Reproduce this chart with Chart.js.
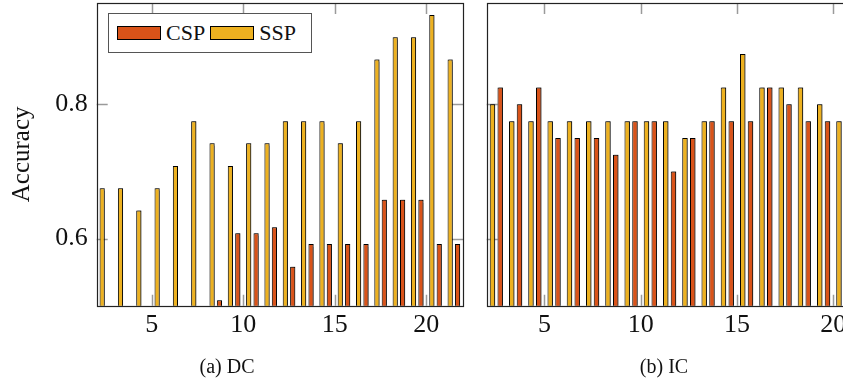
<!DOCTYPE html>
<html>
<head>
<meta charset="utf-8">
<title>Accuracy DC / IC</title>
<script src="https://cdn.jsdelivr.net/npm/chart.js@4.4.1/dist/chart.umd.min.js"></script>
<style>
  html, body { margin: 0; padding: 0; background: #fff; overflow: hidden; }
  body { width: 843px; height: 381px; position: relative; font-family: "Liberation Serif", serif; }
  .panel { position: absolute; top: 0; }
  .caption { position: absolute; top: 356px; font-size: 20px; line-height: 20px; transform: translateX(-50%); white-space: nowrap; color: #111; }
  #legend { position: absolute; left: 108px; top: 13px; width: 204px; height: 40px; box-sizing: border-box;
            border: 1px solid #555; background: #fff; display: flex; align-items: center; padding-left: 8px; font-size: 22px; color: #111; }
  #legend .entry { display: flex; align-items: center; margin-right: 5px; }
  #legend .swatch { width: 44px; height: 14px; box-sizing: border-box; border: 1px solid #000; margin-right: 5px; }
</style>
</head>
<body>
<canvas id="chartDC" class="panel" width="475" height="381" style="left:0"></canvas>
<canvas id="chartIC" class="panel" width="410" height="381" style="left:475px"></canvas>
<div id="legend"></div>
<div class="caption" style="left:227px">(a) DC</div>
<div class="caption" style="left:664px">(b) IC</div>
<script>
// --- data ---
const positions = [2.5, 3.5, 4.5, 5.5, 6.5, 7.5, 8.5, 9.5, 10.5, 11.5, 12.5, 13.5, 14.5, 15.5, 16.5, 17.5, 18.5, 19.5, 20.5, 21.5];

const dcSSP = [0.675, 0.675, 0.642, 0.675, 0.708, 0.775, 0.742, 0.708, 0.742, 0.742, 0.775, 0.775, 0.775, 0.742, 0.775, 0.867, 0.9, 0.9, 0.933, 0.867];
const dcCSP = [null, null, null, null, null, null, 0.508, 0.608, 0.608, 0.617, 0.558, 0.592, 0.592, 0.592, 0.592, 0.658, 0.658, 0.658, 0.592, 0.592];

const icSSP = [0.8, 0.775, 0.775, 0.775, 0.775, 0.775, 0.775, 0.775, 0.775, 0.775, 0.75, 0.775, 0.825, 0.875, 0.825, 0.825, 0.825, 0.8, 0.775, 0.77];
const icCSP = [0.825, 0.8, 0.825, 0.75, 0.75, 0.75, 0.725, 0.775, 0.775, 0.7, 0.75, 0.775, 0.775, 0.775, 0.825, 0.8, 0.775, 0.775, 0.725, null];

const xTicks = [5, 10, 15, 20];
const yTicks = [0.6, 0.8];

const CSP_COLOR = '#D95319';
const SSP_COLOR = '#EDB120';

Chart.defaults.font.family = "'Liberation Serif', serif";
Chart.defaults.color = '#111';

// legend (CSP first, like the original figure)
const legendItems = [
    { label: 'CSP', color: CSP_COLOR },
    { label: 'SSP', color: SSP_COLOR }
];
const legendEl = document.getElementById('legend');
legendItems.forEach(item => {
    const entry = document.createElement('div');
    entry.className = 'entry';
    entry.innerHTML = `<div class="swatch" style="background:${item.color}"></div><span>${item.label}</span>`;
    legendEl.appendChild(entry);
});

function toPoints(values) {
    return positions.map((x, i) => ({ x: x, y: values[i] }));
}

// drop shadow on the bars
const barShadow = {
    id: 'barShadow',
    beforeDatasetsDraw(chart) {
        const c = chart.ctx;
        c.save();
        c.shadowColor = 'rgba(0,0,0,0.45)';
        c.shadowOffsetX = 1.2;
        c.shadowOffsetY = -0.5;
        c.shadowBlur = 1;
    },
    afterDatasetsDraw(chart) {
        chart.ctx.restore();
    }
};

// inward gray ticks on all four sides + dark frame
const axisFrame = {
    id: 'axisFrame',
    beforeDatasetsDraw(chart) {
        const { ctx, chartArea: a, scales } = chart;
        const len = 11;
        ctx.save();
        ctx.strokeStyle = '#9a9a9a';
        ctx.lineWidth = 1.5;
        ctx.beginPath();
        xTicks.forEach(v => {
            const px = Math.round(scales.x.getPixelForValue(v)) + 0.5;
            ctx.moveTo(px, a.bottom); ctx.lineTo(px, a.bottom - len);
            ctx.moveTo(px, a.top); ctx.lineTo(px, a.top + len);
        });
        yTicks.forEach(v => {
            const py = Math.round(scales.y.getPixelForValue(v)) + 0.5;
            ctx.moveTo(a.left, py); ctx.lineTo(a.left + len, py);
            ctx.moveTo(a.right, py); ctx.lineTo(a.right - len, py);
        });
        ctx.stroke();
        ctx.restore();
    },
    afterDraw(chart) {
        const { ctx, chartArea: a } = chart;
        ctx.save();
        ctx.strokeStyle = '#222';
        ctx.lineWidth = 1.2;
        ctx.strokeRect(Math.round(a.left) + 0.5, Math.round(a.top) + 0.5,
            Math.round(a.right - a.left), Math.round(a.bottom - a.top));
        ctx.restore();
    }
};

function makeChart(canvasId, ssp, csp, opts) {
    const ctx = document.getElementById(canvasId).getContext('2d');
    return new Chart(ctx, {
        type: 'bar',
        data: {
            datasets: [
                { label: 'SSP', data: toPoints(ssp), backgroundColor: SSP_COLOR, borderColor: '#000', borderWidth: 1,
                  categoryPercentage: 0.807, barPercentage: 0.7 },
                { label: 'CSP', data: toPoints(csp), backgroundColor: CSP_COLOR, borderColor: '#000', borderWidth: 1,
                  categoryPercentage: 0.807, barPercentage: 0.7 }
            ]
        },
        options: {
            responsive: false,
            animation: false,
            layout: { padding: { left: 0, top: 3, right: opts.padRight, bottom: 0 } },
            plugins: { legend: { display: false }, tooltip: { enabled: false } },
            scales: {
                x: {
                    type: 'linear',
                    min: 2,
                    max: 22,
                    offset: false,
                    grid: { display: false, drawTicks: false, offset: false },
                    border: { display: false },
                    ticks: { font: { size: 26, lineHeight: 1.2 }, padding: 4 },
                    afterBuildTicks: s => { s.ticks = xTicks.map(v => ({ value: v })); },
                    afterFit: s => { s.height = 75.3; s.paddingLeft = 0; s.paddingRight = 0; }
                },
                y: {
                    min: 0.5,
                    max: 0.951,
                    grid: { display: false, drawTicks: false },
                    border: { display: false },
                    ticks: {
                        display: opts.showY,
                        font: { size: 26, lineHeight: 1.2 },
                        padding: 9,
                        callback: v => v.toFixed(1)
                    },
                    title: {
                        display: opts.showY,
                        text: 'Accuracy',
                        font: { size: 25, lineHeight: 1.2 },
                        padding: { top: 7.5, bottom: 0 }
                    },
                    afterBuildTicks: s => { s.ticks = yTicks.map(v => ({ value: v })); },
                    afterFit: s => { s.width = opts.yWidth; s.paddingTop = 0; s.paddingBottom = 0; }
                }
            }
        },
        plugins: [axisFrame, barShadow]
    });
}

makeChart('chartDC', dcSSP, dcCSP, { showY: true, yWidth: 96.7, padRight: 12 });
makeChart('chartIC', icSSP, icCSP, { showY: false, yWidth: 11.7, padRight: 13.3 });
</script>
</body>
</html>
